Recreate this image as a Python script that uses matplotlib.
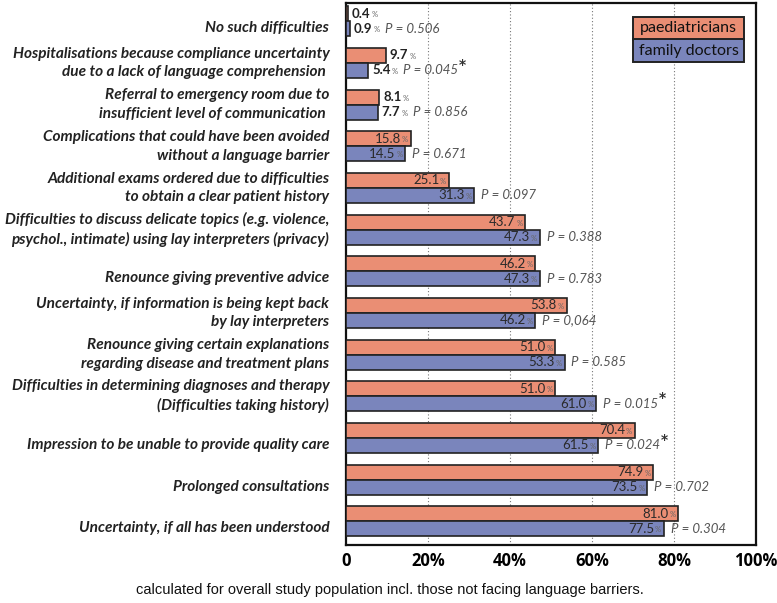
import matplotlib
matplotlib.use("Agg")
import matplotlib.pyplot as plt
from matplotlib.patches import Rectangle
import numpy as np

categories = [
    "No such difficulties",
    "Hospitalisations because compliance uncertainty\ndue to a lack of language comprehension ",
    "Referral to emergency room due to\ninsufficient level of communication ",
    "Complications that could have been avoided\nwithout a language barrier",
    "Additional exams ordered due to difficulties\nto obtain a clear patient history",
    "Difficulties to discuss delicate topics (e.g. violence,\npsychol., intimate) using lay interpreters (privacy)",
    "Renounce giving preventive advice",
    "Uncertainty, if information is being kept back\nby lay interpreters",
    "Renounce giving certain explanations\nregarding disease and treatment plans",
    "Difficulties in determining diagnoses and therapy\n(Difficulties taking history)",
    "Impression to be unable to provide quality care",
    "Prolonged consultations",
    "Uncertainty, if all has been understood",
]
paediatricians = [0.4, 9.7, 8.1, 15.8, 25.1, 43.7, 46.2, 53.8, 51.0, 51.0, 70.4, 74.9, 81.0]
family_doctors = [0.9, 5.4, 7.7, 14.5, 31.3, 47.3, 47.3, 46.2, 53.3, 61.0, 61.5, 73.5, 77.5]
p_values = ["P = 0.506", "P = 0.045", "P = 0.856", "P = 0.671", "P = 0.097", "P = 0.388",
            "P = 0.783", "P = 0,064", "P = 0.585", "P = 0.015", "P = 0.024", "P = 0.702", "P = 0.304"]
significant = [False, True, False, False, False, False, False, False, False, True, True, False, False]
series_names = ["paediatricians", "family doctors"]
xtick_vals = [0, 20, 40, 60, 80, 100]
xtick_labels = ["0", "20%", "40%", "60%", "80%", "100%"]
footnote = "calculated for overall study population incl. those not facing language barriers."

c_paed = "#EA8E74"
c_fam = "#7A85BC"

fig = plt.figure(figsize=(7.77, 6.03), dpi=100)
ax = fig.add_axes([346/777, 1-545/603, 410/777, 542/603])

n = len(categories)
y = np.arange(n)
off = 0.18
h = 0.36
ax.barh(y - off, paediatricians, height=h, color=c_paed, edgecolor="#222222", linewidth=1.2, zorder=3)
ax.barh(y + off, family_doctors, height=h, color=c_fam, edgecolor="#222222", linewidth=1.2, zorder=3)

ax.set_xlim(0, 100)
ax.set_ylim(n - 0.43, -0.44)
ax.set_yticks([])
ax.set_xticks(xtick_vals)
ax.set_xticklabels(xtick_labels, fontsize=12, fontweight="bold", family="Open Sans")
ax.tick_params(axis="x", length=0, pad=5)
for xv in [20, 40, 60, 80]:
    ax.axvline(xv, color="#777777", linestyle=(0, (1, 2)), linewidth=0.8, zorder=1)
for s in ax.spines.values():
    s.set_linewidth(1.6)
    s.set_color("#111111")

VF = "Lato"

def value_label(val, yc, inside):
    if inside:
        num = ax.annotate(f"{val:.1f}", xy=(val, yc), xytext=(-7, 0), textcoords="offset points",
                          ha="right", va="center", fontsize=9.5, color="#2a2a2a",
                          family=VF, zorder=5)
    else:
        num = ax.annotate(f"{val:.1f}", xy=(val, yc), xytext=(3, 0), textcoords="offset points",
                          ha="left", va="center", fontsize=9.5, fontweight="bold", color="#222222",
                          family=VF, zorder=5)
    pct = ax.annotate("%", xy=(1, 0), xycoords=num, xytext=(0.6, 1.0), textcoords="offset points",
                      ha="left", va="bottom", fontsize=5.5, color="#666666",
                      family=VF, zorder=5)
    return pct

for i in range(n):
    value_label(paediatricians[i], i - off, paediatricians[i] >= 12)
    last = value_label(family_doctors[i], i + off, family_doctors[i] >= 12)
    if family_doctors[i] >= 12:
        p = ax.annotate(p_values[i], xy=(family_doctors[i], i + off), xytext=(5, 0),
                        textcoords="offset points", ha="left", va="center", fontsize=9.5,
                        style="italic", color="#555555", family=VF, zorder=5)
    else:
        p = ax.annotate(p_values[i], xy=(1, 0), xycoords=last, xytext=(4, -1.0),
                        textcoords="offset points", ha="left", va="bottom", fontsize=9.5,
                        style="italic", color="#555555", family=VF, zorder=5)
    if significant[i]:
        ax.annotate("*", xy=(1, 0.95), xycoords=p, xytext=(0.5, 0), textcoords="offset points",
                    ha="left", va="center", fontsize=10,
                    fontweight="bold", color="#333333", zorder=5)

    nlines = categories[i].count("\n") + 1
    yl = i if nlines > 1 else i + 0.17
    ax.annotate(categories[i], xy=(0, yl), xycoords=("axes fraction", "data"),
                xytext=(-12, 0), textcoords="offset points", ha="right", va="center",
                fontsize=11.05, fontweight="bold", style="italic", family="Lato",
                color="#222222", linespacing=1.42, annotation_clip=False)

# legend
lx0, lx1 = (633-346)/410, (744-346)/410
ly_top = 1 - (17-3)/542
rowh = 22.5/542
for k, (name, col) in enumerate(zip(series_names, [c_paed, c_fam])):
    yb = ly_top - (k+1)*rowh
    ax.add_patch(Rectangle((lx0, yb), lx1-lx0, rowh, transform=ax.transAxes,
                           facecolor=col, edgecolor="#222222", linewidth=1.4, zorder=6))
    ax.text((lx0+lx1)/2, yb + rowh/2, name, transform=ax.transAxes, ha="center", va="center",
            fontsize=11.5, family="Lato", color="#111111", zorder=7)

fig.text(390/777, 1-590/603, footnote, ha="center", va="center", fontsize=10.5,
         family="Liberation Sans", color="#111111")

fig.savefig("out.png", dpi=100)
